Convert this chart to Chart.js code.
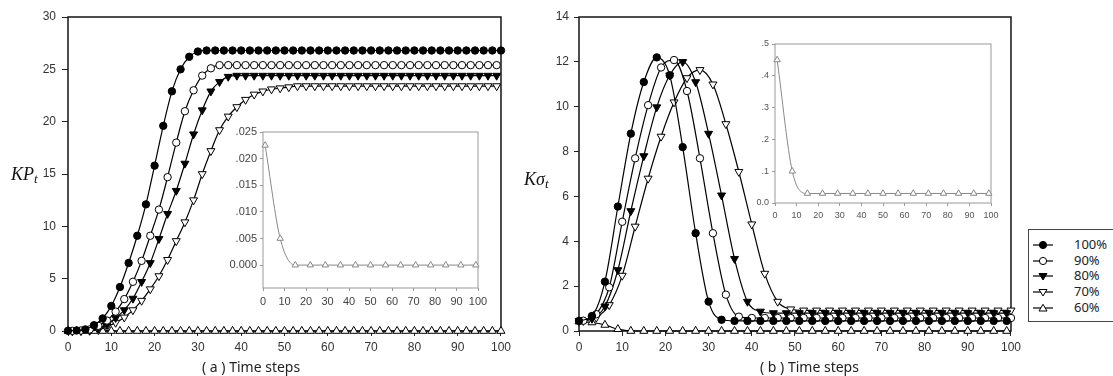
<!DOCTYPE html>
<html>
<head>
<meta charset="utf-8">
<script src="https://cdn.jsdelivr.net/npm/chart.js@4.4.1/dist/chart.umd.min.js"></script>
<style>
  body { margin: 0; background: #fff; }
  #wrap { position: relative; width: 1113px; height: 376px; overflow: hidden; font-family: 'Noto Sans', sans-serif; }
  canvas { position: absolute; }
  .ylab { position: absolute; font: italic 18px 'Liberation Serif', serif; color: #111; white-space: nowrap; }
  .ylab sub { font-size: 13px; vertical-align: -3px; }
  .xlab { position: absolute; font-size: 14px; color: #222; white-space: nowrap; }
  #legend { position: absolute; left: 1028px; top: 229px; width: 95px; height: 93px; border: 1px solid #444; box-sizing: border-box; }
  .lrow { position: absolute; left: 4px; height: 14px; font-size: 13px; color: #222; line-height: 14px; }
  .lrow svg { position: absolute; left: 0; top: 0; }
  .lrow span { position: absolute; left: 41px; top: -1px; }
</style>
</head>
<body>
<div id="wrap">
  <canvas id="chartA" width="515" height="376" style="left:0;top:0;width:515px;height:376px"></canvas>
  <canvas id="chartB" width="510" height="376" style="left:515px;top:0;width:510px;height:376px"></canvas>
  <canvas id="insetA" width="268" height="192" style="left:225px;top:122px;width:268px;height:192px"></canvas>
  <canvas id="insetB" width="262" height="192" style="left:743px;top:34px;width:262px;height:192px"></canvas>
  <div class="ylab" style="left:11px;top:164px">KP<sub>t</sub></div>
  <div class="ylab" style="left:524px;top:169px">Kσ<sub>t</sub></div>
  <div class="xlab" style="left:202px;top:357px">( a ) Time steps</div>
  <div class="xlab" style="left:760px;top:357px">( b ) Time steps</div>
  <div id="legend"></div>
</div>
<script>
// ---- data ----
const seriesNames = ['100%', '90%', '80%', '70%', '60%'];

// panel (a): KP_t
const stepsEvenA = [0, 2, 4, 6, 8, 10, 12, 14, 16, 18, 20, 22, 24, 26, 28, 30, 32, 34, 36, 38, 40, 42, 44, 46, 48, 50,
  52, 54, 56, 58, 60, 62, 64, 66, 68, 70, 72, 74, 76, 78, 80, 82, 84, 86, 88, 90, 92, 94, 96, 98, 100];
const stepsOddA = [1, 3, 5, 7, 9, 11, 13, 15, 17, 19, 21, 23, 25, 27, 29, 31, 33, 35, 37, 39, 41, 43, 45, 47, 49,
  51, 53, 55, 57, 59, 61, 63, 65, 67, 69, 71, 73, 75, 77, 79, 81, 83, 85, 87, 89, 91, 93, 95, 97, 99];

const kp100 = [0.02, 0.05, 0.15, 0.55, 1.2, 2.4, 4.2, 6.5, 9.1, 12.1, 15.8, 19.6, 22.9, 25.0, 26.2, 26.7,
  26.8, 26.8, 26.8, 26.8, 26.8, 26.8, 26.8, 26.8, 26.8, 26.8, 26.8, 26.8, 26.8, 26.8, 26.8, 26.8, 26.8, 26.8,
  26.8, 26.8, 26.8, 26.8, 26.8, 26.8, 26.8, 26.8, 26.8, 26.8, 26.8, 26.8, 26.8, 26.8, 26.8, 26.8, 26.8];
const kp90 = [0.02, 0.05, 0.15, 0.5, 1.0, 1.85, 3.05, 4.7, 6.7, 9.1, 11.6, 14.7, 18.0, 21.0, 23.0, 24.4, 25.1, 25.4,
  25.4, 25.4, 25.4, 25.4, 25.4, 25.4, 25.4, 25.4, 25.4, 25.4, 25.4, 25.4, 25.4, 25.4, 25.4, 25.4,
  25.4, 25.4, 25.4, 25.4, 25.4, 25.4, 25.4, 25.4, 25.4, 25.4, 25.4, 25.4, 25.4, 25.4, 25.4, 25.4];
const kp80 = [0.01, 0.03, 0.08, 0.25, 0.6, 1.25, 2.0, 3.1, 4.7, 6.5, 8.8, 11.2, 13.4, 16.0, 18.8, 21.1, 22.9, 23.8, 24.3,
  24.4, 24.4, 24.4, 24.4, 24.4, 24.4, 24.4, 24.4, 24.4, 24.4, 24.4, 24.4, 24.4, 24.4, 24.4, 24.4,
  24.4, 24.4, 24.4, 24.4, 24.4, 24.4, 24.4, 24.4, 24.4, 24.4, 24.4, 24.4, 24.4, 24.4, 24.4];
const kp70 = [0, 0.01, 0.03, 0.1, 0.4, 0.8, 1.3, 2.0, 2.9, 4.0, 5.25, 6.8, 8.6, 10.4, 12.5, 15.0, 17.2, 19.2, 20.5,
  21.4, 22.1, 22.6, 22.9, 23.1, 23.2, 23.3,
  23.4, 23.4, 23.4, 23.4, 23.4, 23.4, 23.4, 23.4, 23.4, 23.4, 23.4, 23.4,
  23.4, 23.4, 23.4, 23.4, 23.4, 23.4, 23.4, 23.4, 23.4, 23.4, 23.4, 23.4];
const kp60 = [0, 0, 0, 0, 0, 0, 0, 0, 0, 0, 0, 0, 0, 0, 0, 0, 0, 0, 0, 0, 0, 0, 0, 0, 0, 0,
  0, 0, 0, 0, 0, 0, 0, 0, 0, 0, 0, 0, 0, 0, 0, 0, 0, 0, 0, 0, 0, 0, 0, 0, 0];

// panel (b): Kσ_t
const stepsB0 = [0, 3, 6, 9, 12, 15, 18, 21, 24, 27, 30, 33, 36, 39, 42, 45, 48, 51, 54, 57, 60, 63, 66, 69, 72, 75,
  78, 81, 84, 87, 90, 93, 96, 99];
const stepsB1 = [1, 4, 7, 10, 13, 16, 19, 22, 25, 28, 31, 34, 37, 40, 43, 46, 49, 52, 55, 58, 61, 64, 67, 70, 73, 76,
  79, 82, 85, 88, 91, 94, 97, 100];

const ks100 = [0.45, 0.67, 2.2, 5.55, 8.8, 11.1, 12.2, 11.4, 8.2, 4.36, 1.31, 0.5,
  0.45, 0.45, 0.45, 0.45, 0.45, 0.45, 0.45, 0.45, 0.45, 0.45, 0.45, 0.45, 0.45, 0.45, 0.45,
  0.45, 0.45, 0.45, 0.45, 0.45, 0.45, 0.45];
const ks90 = [0.46, 0.75, 1.95, 4.87, 7.7, 10.07, 11.75, 12.08, 10.7, 7.7, 4.36, 1.62, 0.64,
  0.58, 0.58, 0.58, 0.58, 0.58, 0.58, 0.58, 0.58, 0.58, 0.58, 0.58, 0.58, 0.58, 0.58,
  0.58, 0.58, 0.58, 0.58, 0.58, 0.58, 0.58];
const ks80 = [0.45, 0.55, 1.1, 2.72, 5.35, 7.8, 9.98, 11.4, 12.0, 11.1, 8.8, 6.05, 3.22, 1.31, 0.87,
  0.8, 0.8, 0.8, 0.8, 0.8, 0.8, 0.8, 0.8, 0.8, 0.8, 0.8, 0.8, 0.8, 0.8, 0.8, 0.8, 0.8, 0.8, 0.8];
const ks70 = [0.45, 0.6, 1.16, 2.47, 4.66, 6.8, 8.67, 10.2, 11.28, 11.64, 11.0, 9.23, 7.1, 4.76, 2.56, 1.31, 0.97,
  0.92, 0.92, 0.92, 0.92, 0.92, 0.92, 0.92, 0.92, 0.92, 0.92, 0.92, 0.92, 0.92, 0.92, 0.92, 0.92, 0.92];
const ks60 = [0.42, 0.38, 0.27, 0.08,
  0, 0, 0, 0, 0, 0, 0, 0, 0, 0, 0, 0, 0, 0, 0, 0, 0, 0, 0, 0, 0, 0, 0, 0, 0, 0, 0, 0, 0, 0];

// insets: 60% series only
const insetSteps = [1, 8, 15, 22, 29, 36, 43, 50, 57, 64, 71, 78, 85, 92, 99];
const insetKP60 = [0.0225, 0.005, 0, 0, 0, 0, 0, 0, 0, 0, 0, 0, 0, 0, 0];
const insetKS60 = [0.45, 0.10, 0.03, 0.03, 0.03, 0.03, 0.03, 0.03, 0.03, 0.03, 0.03, 0.03, 0.03, 0.03, 0.03];

// tick values / labels
const ticksX = [0, 10, 20, 30, 40, 50, 60, 70, 80, 90, 100];
const ticksKP = [0, 5, 10, 15, 20, 25, 30];
const ticksKS = [0, 2, 4, 6, 8, 10, 12, 14];
const ticksInsetKP = [0, 0.005, 0.010, 0.015, 0.020, 0.025];
const labelsInsetKP = ['0.000', '.005', '.010', '.015', '.020', '.025'];
const ticksInsetKS = [0, 0.1, 0.2, 0.3, 0.4, 0.5];
const labelsInsetKS = ['0.0', '.1', '.2', '.3', '.4', '.5'];

// marker look per series (same order as seriesNames)
const markers = [
  { style: 'circle', fill: '#000', rot: 0 },
  { style: 'circle', fill: '#fff', rot: 0 },
  { style: 'triangle', fill: '#000', rot: 180 },
  { style: 'triangle', fill: '#fff', rot: 180 },
  { style: 'triangle', fill: '#fff', rot: 0 }
];

// ---- helpers ----
const zip = (xs, ys) => xs.map((x, i) => ({ x: x, y: ys[i] }));

function makeSet(idx, xs, ys, color, lw, rScale) {
  const m = markers[idx];
  const r = (m.style === 'triangle' ? 4.6 : 3.7) * rScale;
  return {
    label: seriesNames[idx],
    data: zip(xs, ys),
    borderColor: color, borderWidth: lw,
    pointStyle: m.style, pointRotation: m.rot, pointRadius: r, pointHoverRadius: r,
    pointBackgroundColor: m.fill, pointBorderColor: color, pointBorderWidth: 1,
    cubicInterpolationMode: 'monotone', fill: false, clip: false
  };
}

const framePlugin = {
  id: 'frame',
  beforeDatasetsDraw(chart, args, opts) {
    const a = chart.chartArea, ctx = chart.ctx;
    ctx.save();
    ctx.strokeStyle = opts.color;
    ctx.lineWidth = opts.width;
    ctx.strokeRect(a.left, a.top, a.right - a.left, a.bottom - a.top);
    ctx.restore();
  }
};

function axis(o) {
  return {
    type: 'linear', min: o.min, max: o.max,
    afterBuildTicks: s => { s.ticks = o.ticks.map(v => ({ value: v })); },
    afterFit: s => { if (o.pos === 'y') s.width = o.size; else s.height = o.size; },
    border: { display: false },
    grid: { display: true, drawOnChartArea: false, drawTicks: true, tickLength: o.tickLen, color: o.tickColor, lineWidth: 1 },
    ticks: {
      padding: o.pad, color: o.labelColor, maxRotation: 0, autoSkip: false,
      font: { family: "'Liberation Sans', Arial, sans-serif", size: o.fontSize },
      callback: v => o.labels ? o.labels[o.ticks.indexOf(v)] : String(v)
    }
  };
}

function makeChart(id, datasets, cfg) {
  return new Chart(document.getElementById(id), {
    type: 'line',
    data: { datasets: datasets },
    options: {
      responsive: false, animation: false, devicePixelRatio: 1,
      layout: { padding: cfg.padding },
      plugins: { legend: { display: false }, tooltip: { enabled: false }, frame: cfg.frame },
      scales: { x: axis(cfg.x), y: axis(cfg.y) }
    },
    plugins: [framePlugin]
  });
}

// ---- main panels ----
const mainFrame = { color: '#222', width: 1.6 };

makeChart('chartA', [
  makeSet(0, stepsEvenA, kp100, '#000', 1.2, 1),
  makeSet(1, stepsOddA, kp90, '#000', 1.2, 1),
  makeSet(2, stepsOddA, kp80, '#000', 1.2, 1),
  makeSet(3, stepsOddA, kp70, '#000', 1.2, 1),
  makeSet(4, stepsEvenA, kp60, '#000', 1.2, 1)
], {
  padding: { top: 17, right: 12, left: 0, bottom: 0 },
  frame: mainFrame,
  x: { pos: 'x', min: 0, max: 100, ticks: ticksX, size: 45, tickLen: 5, pad: 4, fontSize: 12, tickColor: '#222', labelColor: '#333' },
  y: { pos: 'y', min: 0, max: 30, ticks: ticksKP, size: 68, tickLen: 6, pad: 6, fontSize: 12, tickColor: '#222', labelColor: '#333' }
});

makeChart('chartB', [
  makeSet(0, stepsB0, ks100, '#000', 1.2, 1),
  makeSet(1, stepsB1, ks90, '#000', 1.2, 1),
  makeSet(2, stepsB0, ks80, '#000', 1.2, 1),
  makeSet(3, stepsB1, ks70, '#000', 1.2, 1),
  makeSet(4, stepsB0, ks60, '#000', 1.2, 1)
], {
  padding: { top: 17, right: 12, left: 0, bottom: 0 },
  frame: mainFrame,
  x: { pos: 'x', min: 0, max: 100, ticks: ticksX, size: 45, tickLen: 5, pad: 4, fontSize: 12, tickColor: '#222', labelColor: '#333' },
  y: { pos: 'y', min: 0, max: 14, ticks: ticksKS, size: 64, tickLen: 5, pad: 5, fontSize: 12, tickColor: '#222', labelColor: '#333' }
});

// ---- insets ----
const insetFrame = { color: '#999', width: 1 };

makeChart('insetA', [makeSet(4, insetSteps, insetKP60, '#888', 1, 0.8)], {
  padding: { top: 10, right: 15, left: 0, bottom: 0 },
  frame: insetFrame,
  x: { pos: 'x', min: 0, max: 100, ticks: ticksX, size: 26, tickLen: 3, pad: 4, fontSize: 11, tickColor: '#999', labelColor: '#444' },
  y: { pos: 'y', min: -0.0043, max: 0.025, ticks: ticksInsetKP, labels: labelsInsetKP, size: 38, tickLen: 3, pad: 3, fontSize: 11, tickColor: '#999', labelColor: '#444' }
});

makeChart('insetB', [makeSet(4, insetSteps, insetKS60, '#888', 1, 0.8)], {
  padding: { top: 10, right: 14, left: 0, bottom: 0 },
  frame: insetFrame,
  x: { pos: 'x', min: 0, max: 100, ticks: ticksX, size: 23, tickLen: 3, pad: 4, fontSize: 9, tickColor: '#999', labelColor: '#555' },
  y: { pos: 'y', min: 0, max: 0.5, ticks: ticksInsetKS, labels: labelsInsetKS, size: 32, tickLen: 3, pad: 3, fontSize: 9, tickColor: '#999', labelColor: '#555' }
});

// ---- legend (HTML, symbols as small svg) ----
const legend = document.getElementById('legend');
seriesNames.forEach((name, i) => {
  const m = markers[i];
  let shape;
  if (m.style === 'circle') {
    shape = `<circle cx="10" cy="7" r="3.6" fill="${m.fill}" stroke="#000" stroke-width="1"/>`;
  } else if (m.rot === 180) {
    shape = `<polygon points="6,4.5 14,4.5 10,11" fill="${m.fill}" stroke="#000" stroke-width="1"/>`;
  } else {
    shape = `<polygon points="6,10 14,10 10,3.3" fill="${m.fill}" stroke="#000" stroke-width="1"/>`;
  }
  const row = document.createElement('div');
  row.className = 'lrow';
  row.style.top = (8 + i * 15.7) + 'px';
  row.innerHTML = `<svg width="22" height="14"><line x1="0" y1="7" x2="20" y2="7" stroke="#000" stroke-width="1.2"/>${shape}</svg><span>${name}</span>`;
  legend.appendChild(row);
});
</script>
</body>
</html>
